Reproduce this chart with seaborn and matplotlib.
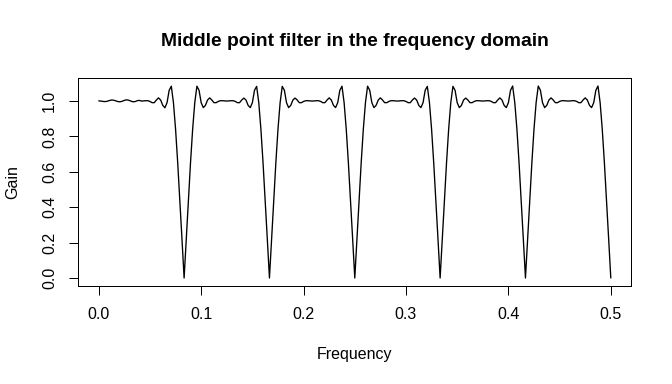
import numpy as np
import pandas as pd
import matplotlib
matplotlib.use("Agg")
import matplotlib.pyplot as plt
import seaborn as sns

# ---- data ----
frequency = np.linspace(0.0, 0.5, 241)
gain = [
    # 0.000 - 0.040 : flat pass band with tiny ripple
    1.000, 0.999, 0.997, 0.996, 0.998, 1.002, 1.005, 1.004, 1.000, 0.996,
    0.995, 0.998, 1.003, 1.006, 1.004, 0.999, 0.995, 0.996, 1.001, 1.003,
    # notch at 1/12
    0.999, 1.000, 1.001, 1.001, 0.997, 0.990, 0.990, 1.005, 1.017, 1.005,
    0.975, 0.961, 0.990, 1.060, 1.083, 0.990, 0.840, 0.650, 0.440, 0.220, 0.000,
    0.220, 0.440, 0.650, 0.840, 0.990, 1.083, 1.060, 0.990, 0.962, 0.975,
    1.005, 1.017, 1.005, 0.990, 0.990, 0.997, 1.001, 1.001, 1.000, 0.999,
    # notch at 2/12
    1.000, 1.001, 1.001, 0.997, 0.990, 0.990, 1.005, 1.016, 1.005, 0.975,
    0.962, 0.990, 1.060, 1.082, 0.990, 0.840, 0.650, 0.440, 0.220, 0.000,
    0.220, 0.440, 0.650, 0.840, 0.990, 1.082, 1.060, 0.990, 0.962, 0.975,
    1.005, 1.016, 1.005, 0.990, 0.990, 0.997, 1.001, 1.001, 1.000, 0.999,
    # notch at 3/12
    1.000, 1.001, 1.001, 0.997, 0.990, 0.990, 1.005, 1.017, 1.005, 0.975,
    0.962, 0.990, 1.060, 1.083, 0.990, 0.840, 0.650, 0.440, 0.220, 0.000,
    0.220, 0.440, 0.650, 0.840, 0.990, 1.083, 1.060, 0.990, 0.962, 0.975,
    1.005, 1.017, 1.005, 0.990, 0.990, 0.997, 1.001, 1.001, 1.000, 0.999,
    # notch at 4/12
    1.000, 1.001, 1.001, 0.997, 0.990, 0.990, 1.005, 1.016, 1.005, 0.975,
    0.962, 0.990, 1.060, 1.082, 0.990, 0.840, 0.650, 0.440, 0.220, 0.000,
    0.220, 0.440, 0.650, 0.840, 0.990, 1.082, 1.060, 0.990, 0.962, 0.975,
    1.005, 1.016, 1.005, 0.990, 0.990, 0.997, 1.001, 1.001, 1.000, 0.999,
    # notch at 5/12
    1.000, 1.001, 1.001, 0.997, 0.990, 0.990, 1.005, 1.017, 1.005, 0.975,
    0.962, 0.990, 1.060, 1.084, 0.990, 0.840, 0.650, 0.440, 0.220, 0.000,
    0.220, 0.440, 0.650, 0.840, 0.990, 1.084, 1.060, 0.990, 0.962, 0.975,
    1.005, 1.017, 1.005, 0.990, 0.990, 0.997, 1.001, 1.001, 1.000, 0.999,
    # notch at 6/12 = 0.5
    1.000, 1.001, 1.001, 0.997, 0.990, 0.990, 1.005, 1.017, 1.005, 0.975,
    0.962, 0.990, 1.060, 1.084, 0.990, 0.840, 0.650, 0.440, 0.220, 0.000,
]
x_ticks = [0.0, 0.1, 0.2, 0.3, 0.4, 0.5]
x_tick_labels = ["0.0", "0.1", "0.2", "0.3", "0.4", "0.5"]
y_ticks = [0.0, 0.2, 0.4, 0.6, 0.8, 1.0]
y_tick_labels = ["0.0", "0.2", "0.4", "0.6", "0.8", "1.0"]
title = "Middle point filter in the frequency domain"
x_label = "Frequency"
y_label = "Gain"

df = pd.DataFrame({"Frequency": frequency, "Gain": gain})

sns.set_style("white")
plt.rcParams["font.family"] = ["Liberation Sans", "DejaVu Sans"]
plt.rcParams["text.color"] = "black"

fig = plt.figure(figsize=(7, 4), dpi=96)
ax = fig.add_axes([0.1165, 0.256, 0.8229, 0.540])
sns.lineplot(data=df, x="Frequency", y="Gain", ax=ax, color="black", linewidth=1.0)

ymin, ymax = min(gain), max(gain)
pad = 0.04 * (ymax - ymin)
ax.set_xlim(-0.02, 0.52)
ax.set_ylim(ymin - pad, ymax + pad)

ax.set_xticks(x_ticks)
ax.set_xticklabels(x_tick_labels)
ax.set_yticks(y_ticks)
ax.set_yticklabels(y_tick_labels, rotation=90, va="center")
ax.set_xlabel("")
ax.set_ylabel("")

for s in ax.spines.values():
    s.set_visible(True)
    s.set_color("black")
    s.set_linewidth(0.75)

ax.tick_params(axis="both", direction="out", length=7, width=0.75,
               colors="black", labelcolor="black", labelsize=12,
               bottom=True, left=True)
ax.tick_params(axis="x", pad=9)
ax.tick_params(axis="y", pad=9)

cx = 0.1165 + 0.8229 / 2
fig.text(cx, 1 - 42 / 384, title, ha="center", va="center",
         fontsize=14.4, fontweight="bold", color="black")
fig.text(cx, 1 - 354 / 384, x_label, ha="center", va="center",
         fontsize=12, color="black")
fig.text(13 / 672, 0.526, y_label, ha="center", va="center",
         rotation=90, fontsize=12, color="black")

fig.savefig("out.png", dpi=96)
